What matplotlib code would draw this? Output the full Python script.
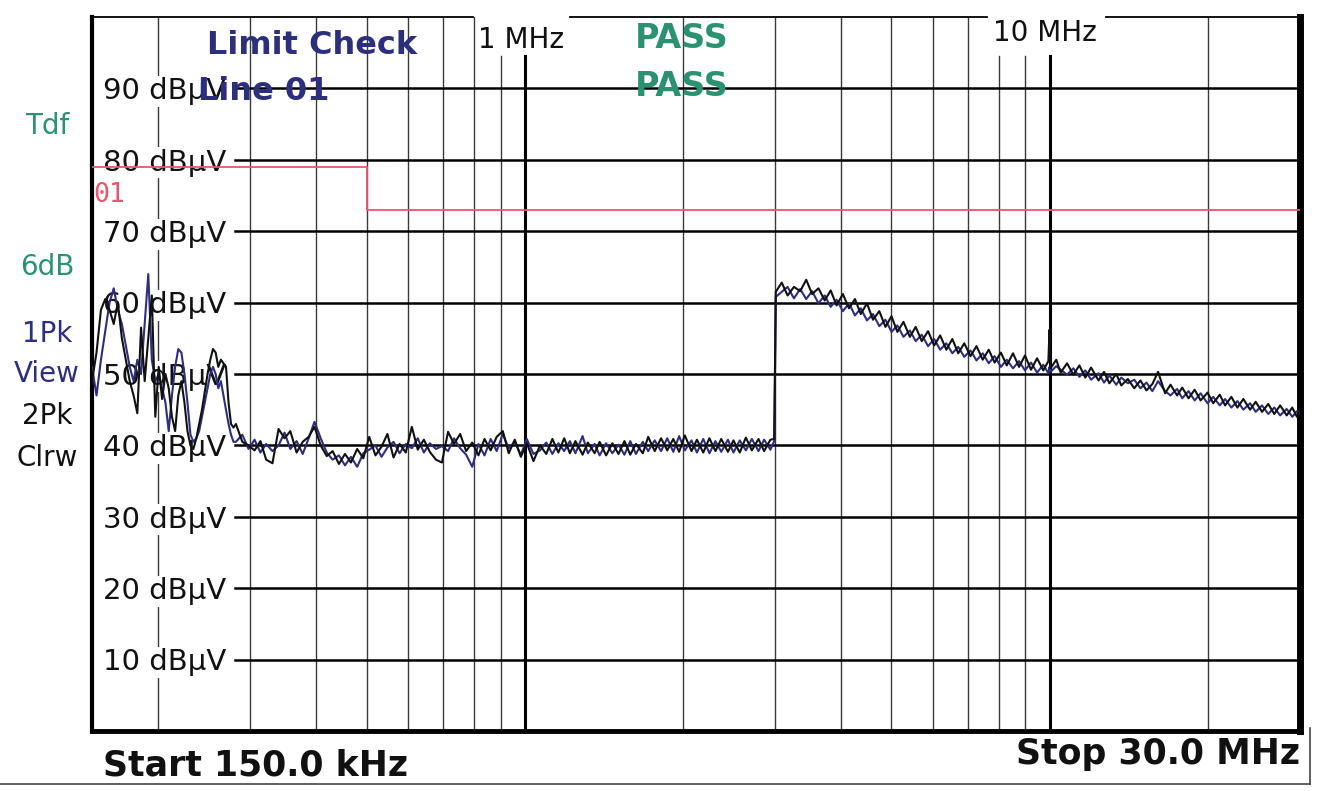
import matplotlib as mpl
import matplotlib.pyplot as plt
from matplotlib.lines import Line2D
from matplotlib.transforms import blended_transform_factory

mpl.rcParams['font.family'] = 'DejaVu Sans'

W, H = 1319, 791
NAVY = '#2c2f7c'
GREEN = '#2a9272'
RED = '#e8566f'

# sweep points in MHz, shared by both traces
freq_low = [0.150, 0.153, 0.156, 0.159, 0.162, 0.165, 0.168, 0.171, 0.174, 0.177,
            0.180, 0.183, 0.186, 0.189, 0.192, 0.195, 0.198, 0.201, 0.204, 0.207,
            0.210, 0.213, 0.216, 0.219, 0.222, 0.225, 0.228, 0.231, 0.234, 0.237,
            0.240, 0.243, 0.246, 0.249, 0.252, 0.255, 0.258, 0.261, 0.264, 0.267,
            0.270, 0.273, 0.276, 0.279]
freq_mid = [0.282, 0.290, 0.298, 0.306, 0.314, 0.322, 0.331, 0.340, 0.349, 0.358,
            0.368, 0.378, 0.388, 0.398, 0.409, 0.420, 0.431, 0.443, 0.455, 0.467,
            0.480, 0.493, 0.506, 0.520, 0.534, 0.548, 0.563, 0.578, 0.594, 0.610,
            0.626, 0.643, 0.660, 0.678, 0.696, 0.715, 0.734, 0.754, 0.774, 0.795,
            0.817, 0.839, 0.862, 0.885, 0.909, 0.933, 0.958, 0.984, 1.01, 1.04,
            1.07, 1.10, 1.13, 1.16, 1.19, 1.22, 1.25, 1.29, 1.32, 1.36,
            1.39, 1.43, 1.47, 1.51, 1.55, 1.59, 1.63, 1.68, 1.72, 1.77,
            1.82, 1.87, 1.92, 1.97, 2.02, 2.08, 2.13, 2.19, 2.25, 2.31,
            2.37, 2.44, 2.50, 2.57, 2.64, 2.71, 2.79, 2.86, 2.94, 2.99]
freq_high = [3.01, 3.09, 3.17, 3.26, 3.35, 3.44, 3.53, 3.63, 3.73, 3.83,
             3.93, 4.04, 4.15, 4.26, 4.37, 4.49, 4.61, 4.74, 4.87, 5.00,
             5.13, 5.27, 5.42, 5.56, 5.71, 5.87, 6.03, 6.19, 6.36, 6.53,
             6.70, 6.88, 7.07, 7.26, 7.46, 7.66, 7.86, 8.08, 8.29, 8.52,
             8.75, 8.98, 9.22, 9.47, 9.73, 9.95, 10.0, 10.05, 10.3, 10.5,
             10.8, 11.1, 11.4, 11.7, 12.0, 12.4, 12.7, 13.0, 13.4, 13.7,
             14.1, 14.5, 14.9, 15.3, 15.7, 16.1, 16.6, 17.0, 17.5, 17.9,
             18.4, 18.9, 19.4, 20.0, 20.5, 21.1, 21.6, 22.2, 22.8, 23.4,
             24.1, 24.7, 25.4, 26.1, 26.8, 27.5, 28.3, 29.0, 29.6, 30.0]

# trace 1 (1Pk View, navy), dBuV
pk1_low = [51, 47, 52, 56, 60, 62, 59, 57, 54, 51,
           49, 52, 50, 57, 64, 52, 49, 50, 48, 46,
           42, 47, 51, 53.5, 53, 50, 46, 41.5, 40.5, 41,
           42, 44, 46, 48, 50, 51, 50, 48, 49, 47,
           45, 43, 41.5, 40.5]
pk1_mid = [40.5, 41.5, 39.5, 40.8, 39.0, 40.2, 39.2, 40.0, 41.8, 39.5,
           40.6, 38.8, 41.0, 43.3, 41.0, 39.0, 38.0, 38.6, 37.2, 38.4,
           37.0, 38.9, 39.4, 40.0, 38.4, 39.7, 40.5, 38.9, 40.2, 39.6,
           41.0, 39.0, 40.3, 39.5, 39.9, 39.2, 41.0, 39.6, 38.7, 37.0,
           40.2, 38.6, 40.9, 39.2, 41.6, 39.6, 40.5, 38.7, 40.9, 38.8,
           39.3, 40.4, 38.8, 40.3, 39.2, 40.6, 38.9, 41.3, 38.9, 40.2,
           38.6, 40.3, 38.9, 40.1, 38.7, 40.6, 38.8, 40.5, 39.2, 40.7,
           39.2, 41.0, 39.1, 41.3, 39.3, 40.7, 39.0, 40.9, 38.9, 40.6,
           39.1, 40.8, 39.0, 40.7, 39.3, 40.9, 39.2, 40.8, 39.4, 40.6]
pk1_high = [60.8, 61.5, 62.2, 60.6, 61.9, 60.5, 61.6, 59.9, 61.0, 59.4,
            60.4, 58.8, 59.9, 58.2, 59.2, 57.5, 58.4, 56.7, 57.6, 55.9,
            56.8, 55.2, 56.1, 54.6, 55.5, 53.9, 54.9, 53.4, 54.3, 52.9,
            53.8, 52.4, 53.3, 51.9, 52.9, 51.5, 52.5, 51.0, 52.0, 50.8,
            51.8, 50.5, 51.6, 50.2, 51.3, 50.1, 51.0, 50.3, 51.1, 50.6,
            49.9, 50.8, 49.6, 50.5, 49.2, 50.1, 48.8, 49.8, 48.5, 49.5,
            48.7, 49.2, 48.0, 48.8, 47.6, 49.0, 47.6, 47.0, 47.9, 46.6,
            47.6, 46.3, 47.3, 45.9, 46.8, 45.6, 46.5, 45.3, 46.2, 45.0,
            45.9, 44.7, 45.6, 44.4, 45.3, 44.2, 45.1, 44.0, 44.8, 44.5]

# trace 2 (2Pk Clrw, black), dBuV
pk2_low = [49, 53, 59, 60.5, 59, 57, 60, 55, 52, 49,
           47, 44.5, 56.5, 49, 55, 61, 44, 51, 46.5, 50,
           48, 44, 42, 47, 49, 46, 42, 40, 39.5, 41,
           43, 45, 47.5, 50, 52, 53.5, 53, 51, 52, 51.5,
           51, 46, 43, 42.5]
pk2_mid = [43.0, 40.5, 40.0, 39.3, 40.6, 38.0, 37.5, 42.3, 41.0, 42.0,
           39.0, 40.5, 41.2, 42.6, 40.0, 38.5, 39.2, 37.4, 38.8, 37.6,
           39.5, 38.2, 41.2, 38.6, 39.8, 41.6, 38.3, 40.2, 39.0, 42.6,
           39.4, 40.8, 39.1, 38.0, 37.6, 41.9, 40.2, 41.6, 39.2, 40.4,
           38.6, 40.9, 39.3, 41.2, 42.0, 38.9, 40.8, 38.4, 40.3, 37.8,
           40.0, 38.8, 40.9, 39.0, 41.0, 38.9, 40.6, 38.7, 40.4, 38.9,
           40.5, 38.6, 40.3, 38.8, 40.6, 38.7, 40.2, 38.9, 41.2, 39.2,
           41.0, 39.3, 40.9, 39.1, 41.4, 39.2, 40.8, 39.0, 41.0, 39.2,
           40.9, 39.1, 40.7, 39.0, 41.1, 39.3, 40.9, 39.2, 40.8, 40.9]
pk2_high = [61.5, 62.8, 61.0, 62.2, 61.6, 63.2, 61.2, 62.0, 60.3, 61.7,
            59.6, 61.2, 59.2, 60.5, 58.4, 59.9, 57.6, 58.8, 56.6, 58.1,
            55.9, 57.3, 55.2, 56.6, 54.6, 56.0, 54.0, 55.4, 53.4, 54.9,
            52.9, 54.3, 52.5, 53.9, 52.0, 53.4, 51.6, 53.0, 51.2, 52.9,
            51.0, 52.6, 50.6, 52.2, 50.5, 51.8, 56.2, 50.8, 52.0, 50.2,
            51.5, 49.9, 51.2, 49.5, 50.9, 49.1, 50.3, 48.7, 50.0, 48.4,
            49.3, 48.0, 49.1, 47.7, 48.6, 50.3, 47.3, 48.5, 47.0, 48.1,
            46.6, 47.8, 46.3, 47.4, 45.9, 47.1, 45.6, 46.8, 45.3, 46.5,
            45.0, 46.1, 44.7, 45.8, 44.4, 45.6, 44.2, 45.3, 44.0, 45.2]

# limit line 01
limit_freq = [0.15, 0.5, 0.5, 30]
limit_db = [79, 79, 73, 73]

grid_freqs = [0.2, 0.3, 0.4, 0.5, 0.6, 0.7, 0.8, 0.9, 1, 2, 3, 4, 5, 6, 7, 8, 9, 10, 20]
short_lines = [0.9, 1, 8, 9, 10]   # stop below the 1 MHz / 10 MHz labels
levels = [10, 20, 30, 40, 50, 60, 70, 80, 90]

freq_mhz = freq_low + freq_mid + freq_high
pk1 = pk1_low + pk1_mid + pk1_high
pk2 = pk2_low + pk2_mid + pk2_high


def px(x, y):
    return x / W, 1 - y / H


fig = plt.figure(figsize=(W / 100, H / 100), dpi=100)
ax = fig.add_axes([92 / W, 1 - 731 / H, 1208 / W, 714 / H])
ax.set_xscale('log')
ax.set_xlim(0.15, 30)
ax.set_ylim(0, 100)
ax.set_xticks([])
ax.set_yticks([])
ax.minorticks_off()

for f in grid_freqs:
    top = 0.945 if f in short_lines else 1.0
    thick = f in (1, 10)
    ax.axvline(f, ymax=top, color='black' if thick else '#3a3a3a',
               lw=2.2 if thick else 1.0, zorder=1)

btrans = blended_transform_factory(ax.transAxes, ax.transData)
for lvl in levels:
    ax.axhline(lvl, xmin=0.118, color='black', lw=1.8, zorder=1.5)
    ax.text(0.009, lvl - 0.4, f'{lvl} dBµV', transform=btrans, ha='left', va='center',
            fontsize=21, color='#111111', zorder=2,
            bbox=dict(fc='white', ec='none', pad=1))

ax.plot(limit_freq, limit_db, color=RED, lw=1.3, zorder=3)
ax.plot(freq_mhz, pk1, color=NAVY, lw=1.5, zorder=4)
ax.plot(freq_mhz, pk2, color='#111111', lw=1.5, zorder=4.5)

# frame
for side in ('left', 'bottom', 'right'):
    ax.spines[side].set_linewidth({'left': 3, 'bottom': 3.5, 'right': 5}[side])
ax.spines['top'].set_visible(False)
for x0, x1 in [(0, 0.315), (0.396, 0.741), (0.839, 1.0)]:
    ax.plot([x0, x1], [1, 1], transform=ax.transAxes, color='black', lw=1.3,
            clip_on=False, zorder=6)

# texts
fig.text(*px(93, 195), '01', color=RED, fontsize=19, family='DejaVu Sans Mono',
         ha='left', va='center')
fig.text(*px(312, 45), 'Limit Check', color=NAVY, fontsize=23, fontweight='bold',
         ha='center', va='center', zorder=7)
fig.text(*px(198, 91), 'Line 01', color=NAVY, fontsize=23, fontweight='bold',
         ha='left', va='center', zorder=7)
fig.text(*px(682, 39), 'PASS', color=GREEN, fontsize=24, fontweight='bold',
         ha='center', va='center', zorder=7)
fig.text(*px(682, 87), 'PASS', color=GREEN, fontsize=24, fontweight='bold',
         ha='center', va='center', zorder=7)
fig.text(*px(478, 40), '1 MHz', color='#111111', fontsize=20, ha='left', va='center')
fig.text(*px(993, 33), '10 MHz', color='#111111', fontsize=20, ha='left', va='center')

side_labels = [('Tdf', 126, GREEN), ('6dB', 267, GREEN), ('1Pk', 334, NAVY),
               ('View', 374, NAVY), ('2Pk', 416, '#111111'), ('Clrw', 458, '#111111')]
for txt, y, c in side_labels:
    fig.text(*px(47, y), txt, color=c, fontsize=20, ha='center', va='center')

fig.text(*px(103, 766), 'Start 150.0 kHz', color='#111111', fontsize=25,
         fontweight='bold', ha='left', va='center')
fig.text(*px(1300, 754), 'Stop 30.0 MHz', color='#111111', fontsize=25,
         fontweight='bold', ha='right', va='center')

fig.add_artist(Line2D([0, 1310 / W], [1 - 784 / H, 1 - 784 / H], color='#444444', lw=1.2))
fig.add_artist(Line2D([1310 / W, 1310 / W], [1 - 784 / H, 1 - 728 / H], color='#444444', lw=1.2))

fig.savefig('out.png', dpi=100, facecolor='white')
